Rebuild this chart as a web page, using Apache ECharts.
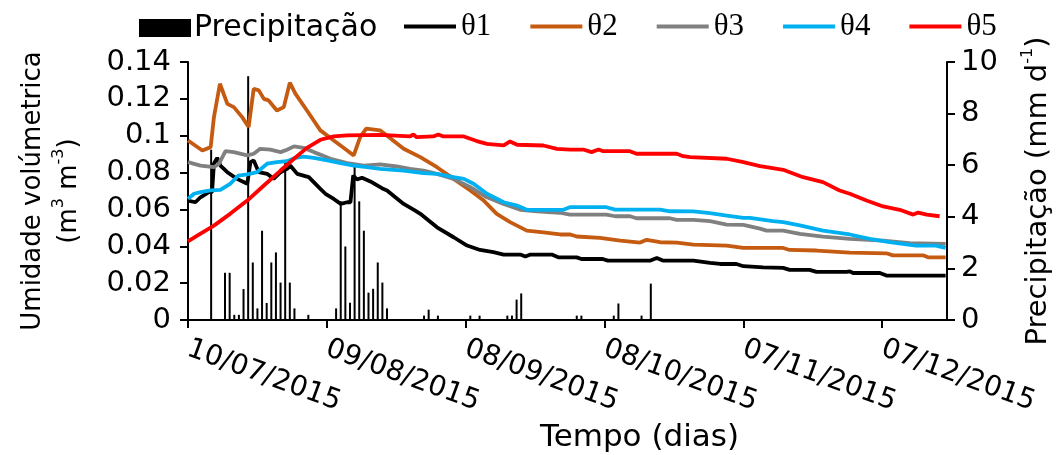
<!DOCTYPE html>
<html>
<head>
<meta charset="utf-8">
<script src="https://cdn.jsdelivr.net/npm/echarts@6/dist/echarts.min.js"></script>
<style>
  html, body { margin: 0; padding: 0; background: #fff; }
  #chart { width: 1056px; height: 455px; }
</style>
</head>
<body>
<div id="chart"></div>
<script>
// x values are days counted from 10/07/2015.
const dayMax = 164;
const tickLabels = ['10/07/2015', '09/08/2015', '08/09/2015', '08/10/2015', '07/11/2015', '07/12/2015'];

// Daily precipitation (mm d-1): [day, value]
const precipitation = [
  [5, 6.6], [8, 1.83], [9, 1.83], [10, 0.2], [11, 0.2], [12, 1.2], [13, 9.45], [14, 2.23],
  [15, 0.45], [16, 3.46], [17, 0.66], [18, 2.23], [19, 2.62], [20, 1.45], [21, 6.2], [22, 1.45],
  [23, 0.45], [26, 0.2], [32, 0.45], [33, 4.6], [34, 2.85], [35, 0.67], [36, 6.0], [37, 4.6],
  [38, 3.46], [39, 1.06], [40, 1.21], [41, 2.23], [42, 1.45], [43, 0.45], [51, 0.17], [52, 0.4],
  [54, 0.17], [61, 0.17], [63, 0.17], [69, 0.17], [70, 0.17], [71, 0.79], [72, 1.03], [84, 0.17],
  [85, 0.17], [92, 0.17], [93, 0.64], [98, 0.17], [100, 1.41]
];

// Volumetric water content (m3 m-3) at five probes: [day, value]
const theta1 = [
  [0, 0.0648], [1.6, 0.0639], [2.7, 0.0666], [4.5, 0.0694], [5.2, 0.0694], [5.6, 0.0848], [6.3, 0.088],
  [7, 0.0838], [8.5, 0.0802], [10.6, 0.0766], [12.8, 0.0739], [13.1, 0.073], [13.5, 0.0857], [14.2, 0.0866],
  [15.3, 0.0802], [17.1, 0.0793], [18.5, 0.0766], [20, 0.0802], [21.4, 0.082], [22.1, 0.0838], [23.6, 0.0793],
  [26.1, 0.0775], [28.6, 0.0712], [29.7, 0.0685], [31.5, 0.0657], [33, 0.063], [34.4, 0.0639], [35.1, 0.0639],
  [35.7, 0.0784], [36.5, 0.0762], [37.6, 0.0772], [39.4, 0.0752], [41.9, 0.0715], [43, 0.0703], [44.8, 0.0666],
  [46.6, 0.063], [49.1, 0.0594], [50.2, 0.0576], [53.8, 0.0503], [57.4, 0.0449], [60.3, 0.0404], [63.1, 0.038],
  [66, 0.0368], [68.2, 0.0355], [71.8, 0.0355], [72.9, 0.0344], [74, 0.0355], [78.6, 0.0355], [80, 0.034],
  [84, 0.034], [85, 0.0331], [89.6, 0.0331], [90.7, 0.0322], [99.8, 0.0322], [101.3, 0.0337], [102.7, 0.0322],
  [109.2, 0.0322], [112.8, 0.031], [115, 0.0304], [118.5, 0.0304], [120, 0.0292], [124.3, 0.0286],
  [128.6, 0.0283], [130, 0.0272], [134.3, 0.0272], [135.8, 0.0261], [142.3, 0.0261], [143, 0.0264],
  [143.7, 0.0255], [149.5, 0.0255], [150.9, 0.0241], [163.7, 0.0241]
];
const theta2 = [
  [0, 0.0974], [3.1, 0.092], [4.9, 0.0938], [5.6, 0.11], [6.9, 0.1282], [8.5, 0.1173], [9.9, 0.1155],
  [11.7, 0.1101], [13.1, 0.1047], [14.2, 0.1255], [15.3, 0.1246], [16.4, 0.12], [17.4, 0.1192], [19.2, 0.1137],
  [20.7, 0.1155], [22, 0.1288], [23.2, 0.1228], [25.7, 0.1137], [28.6, 0.1029], [31.5, 0.0974], [34.4, 0.092],
  [35.8, 0.0893], [37.2, 0.0992], [38.5, 0.1038], [41.5, 0.1029], [46.6, 0.0929], [50.2, 0.0884], [53.8, 0.0829],
  [57.4, 0.0766], [61, 0.0703], [63.9, 0.0648], [66.7, 0.0576], [69.6, 0.0531], [73.2, 0.0485], [76.8, 0.0476],
  [80.4, 0.0464], [82.6, 0.0464], [84, 0.0453], [89, 0.0446], [93.4, 0.0431], [97.7, 0.042], [99.1, 0.0435],
  [102, 0.0422], [105.6, 0.042], [109.2, 0.0409], [116.4, 0.0404], [120, 0.0391], [128.6, 0.0391], [130, 0.038],
  [135.8, 0.0377], [143, 0.0366], [150.9, 0.0362], [152.3, 0.0351], [158.8, 0.0351], [159.9, 0.034], [163.7, 0.034]
];
const theta3 = [
  [0, 0.0857], [2.7, 0.0838], [5.6, 0.0829], [6.7, 0.0848], [8.1, 0.0916], [9.9, 0.0911], [12.8, 0.0893],
  [14.2, 0.0902], [15.6, 0.0929], [17.8, 0.0924], [20, 0.0911], [21.4, 0.0924], [22.9, 0.0942], [25, 0.0934],
  [27.2, 0.0911], [30.8, 0.0875], [34.4, 0.0851], [38, 0.0838], [41.5, 0.0844], [45.1, 0.0833], [48, 0.082],
  [50.9, 0.0811], [53.8, 0.0793], [57.4, 0.0766], [61, 0.0721], [64.6, 0.0666], [68.2, 0.063], [71.8, 0.0598],
  [75.4, 0.059], [80.4, 0.0582], [82.5, 0.0572], [90.4, 0.0572], [92.3, 0.0563], [95.5, 0.0563], [96.9, 0.0552],
  [104.1, 0.0552], [105.6, 0.0543], [109.2, 0.0543], [112.8, 0.0536], [116.4, 0.0518], [120, 0.0516],
  [123.6, 0.0496], [125, 0.0485], [128.6, 0.0485], [132.2, 0.0467], [137.2, 0.0453], [143, 0.044],
  [150.2, 0.0431], [155.9, 0.0417], [163.7, 0.0413]
];
const theta4 = [
  [0, 0.0657], [1.3, 0.0685], [2.7, 0.0694], [4.9, 0.0703], [7, 0.0706], [9.1, 0.0739], [10.9, 0.0784],
  [12.8, 0.079], [14.9, 0.0802], [17.1, 0.0848], [19.2, 0.0857], [21.4, 0.0862], [23.2, 0.088], [25, 0.0887],
  [27.2, 0.088], [30.1, 0.0866], [33, 0.0851], [35.8, 0.0838], [38.7, 0.0829], [41.5, 0.082], [46.6, 0.0811],
  [50.9, 0.0797], [53.8, 0.0793], [57.4, 0.0775], [59.6, 0.0766], [61.7, 0.0739], [64.6, 0.0685], [68.2, 0.0639],
  [71.1, 0.0621], [73.2, 0.0598], [81.1, 0.0598], [82.5, 0.0612], [90.4, 0.0612], [92.3, 0.0599], [102, 0.0599],
  [104.1, 0.059], [109.2, 0.0589], [112.8, 0.058], [116.4, 0.0567], [120, 0.0554], [121.4, 0.0554],
  [126.4, 0.0536], [128.6, 0.0531], [132.2, 0.0513], [137.2, 0.0485], [143, 0.0464], [147.3, 0.044],
  [151.6, 0.0422], [157.3, 0.0404], [161.6, 0.0404], [163.7, 0.0391]
];
const theta5 = [
  [0, 0.0427], [2, 0.0458], [5.6, 0.0512], [9.1, 0.0576], [12.8, 0.0648], [16.4, 0.073], [20, 0.0811],
  [22.9, 0.0875], [25.7, 0.0934], [28.6, 0.0978], [31.5, 0.0996], [34.4, 0.1002], [41.5, 0.1005], [48, 0.0996],
  [48.7, 0.1007], [49.4, 0.0992], [53, 0.0996], [54.1, 0.1007], [55.2, 0.0996], [59.6, 0.0996], [62.4, 0.0971],
  [64.6, 0.0956], [68.2, 0.0947], [69.6, 0.0969], [71.1, 0.0951], [76.8, 0.0947], [79.7, 0.0929], [82.6, 0.0924],
  [85.4, 0.0925], [87.2, 0.0911], [88.7, 0.0925], [89.7, 0.0916], [95.5, 0.0916], [96.9, 0.0902], [105.6, 0.0902],
  [107, 0.0889], [108.5, 0.0884], [116.4, 0.0875], [120, 0.0857], [123.6, 0.0835], [125, 0.0829], [128.6, 0.0815],
  [132.9, 0.0775], [137.2, 0.0748], [140.8, 0.0703], [143, 0.0685], [146.6, 0.0648], [150.2, 0.0616],
  [153.8, 0.0598], [156.7, 0.0572], [157.8, 0.0583], [159.6, 0.0572], [162.4, 0.0563]
];

const seriesNames = ['θ1', 'θ2', 'θ3', 'θ4', 'θ5'];
const seriesColors = ['#000000', '#C55A11', '#808080', '#00B0F0', '#FF0000'];
const thetaData = [theta1, theta2, theta3, theta4, theta5];

const SANS = 'DejaVu Sans, Verdana, sans-serif';
const SERIF = 'Liberation Serif, Times New Roman, serif';
const axisLine = { show: true, lineStyle: { color: '#000', width: 2 } };
const axisTick = { show: true, inside: false, length: 8, lineStyle: { color: '#000', width: 2 } };
const supStyle = { fontFamily: SANS, fontSize: 16, color: '#000', verticalAlign: 'top', lineHeight: 36 };

const chart = echarts.init(document.getElementById('chart'), null, { renderer: 'canvas' });

const lineSeries = thetaData.map((d, i) => ({
  name: seriesNames[i],
  type: 'line',
  xAxisIndex: 0,
  yAxisIndex: 0,
  data: d,
  symbol: 'none',
  lineStyle: { color: seriesColors[i], width: 3.8 },
  itemStyle: { color: seriesColors[i] },
  z: 3 + i
}));

chart.setOption({
  animation: false,
  backgroundColor: '#ffffff',
  grid: { left: 188, right: 109, top: 62, bottom: 135, containLabel: false, outerBoundsMode: 'none' },
  legend: [
    {
      data: ['Precipitação'],
      icon: 'rect',
      left: 134, top: 8,
      itemWidth: 52, itemHeight: 18, itemGap: 4,
      textStyle: { fontFamily: SANS, fontSize: 30, color: '#000', padding: [0, 0, 0, -2] }
    },
    {
      data: seriesNames,
      icon: 'rect',
      left: 399, top: 6,
      itemWidth: 52, itemHeight: 4, itemGap: 39,
      textStyle: { fontFamily: SERIF, fontSize: 31, color: '#000' }
    }
  ],
  xAxis: {
    type: 'value',
    min: 0, max: dayMax, interval: 30,
    splitLine: { show: false },
    axisLine, axisTick,
    axisLabel: {
      rotate: -20, margin: 28,
      fontFamily: SANS, fontSize: 28, color: '#000',
      showMaxLabel: false,
      formatter: v => (v % 30 === 0 ? tickLabels[v / 30] || '' : '')
    },
    name: 'Tempo (dias)',
    nameLocation: 'middle',
    nameGap: 101,
    nameTextStyle: { fontFamily: SANS, fontSize: 31, color: '#000', padding: [0, 0, 0, 144] }
  },
  yAxis: [
    {
      type: 'value',
      min: 0, max: 0.14, interval: 0.02,
      splitLine: { show: false },
      axisLine, axisTick,
      axisLabel: {
        margin: 17, fontFamily: SANS, fontSize: 29, color: '#000',
        formatter: v => String(+v.toFixed(2))
      },
      name: 'Umidade volúmetrica\n(m{sup|3} m{sup|-3})',
      nameLocation: 'middle',
      nameRotate: 90,
      nameGap: 101,
      nameTextStyle: {
        fontFamily: SANS, fontSize: 26, color: '#000', lineHeight: 36, align: 'center',
        rich: { sup: supStyle }
      }
    },
    {
      type: 'value',
      min: 0, max: 10, interval: 2,
      position: 'right',
      splitLine: { show: false },
      axisLine, axisTick,
      axisLabel: { margin: 14, fontFamily: SANS, fontSize: 29, color: '#000' },
      name: 'Precipitação (mm d{sup|-1})',
      nameLocation: 'middle',
      nameRotate: 90,
      nameGap: 73,
      nameTextStyle: {
        fontFamily: SANS, fontSize: 29, color: '#000', lineHeight: 36,
        rich: { sup: supStyle }
      }
    }
  ],
  series: [
    {
      name: 'Precipitação',
      type: 'bar',
      xAxisIndex: 0,
      yAxisIndex: 1,
      data: precipitation,
      barWidth: 2,
      itemStyle: { color: '#000' },
      z: 2
    },
    ...lineSeries
  ]
});
</script>
</body>
</html>
